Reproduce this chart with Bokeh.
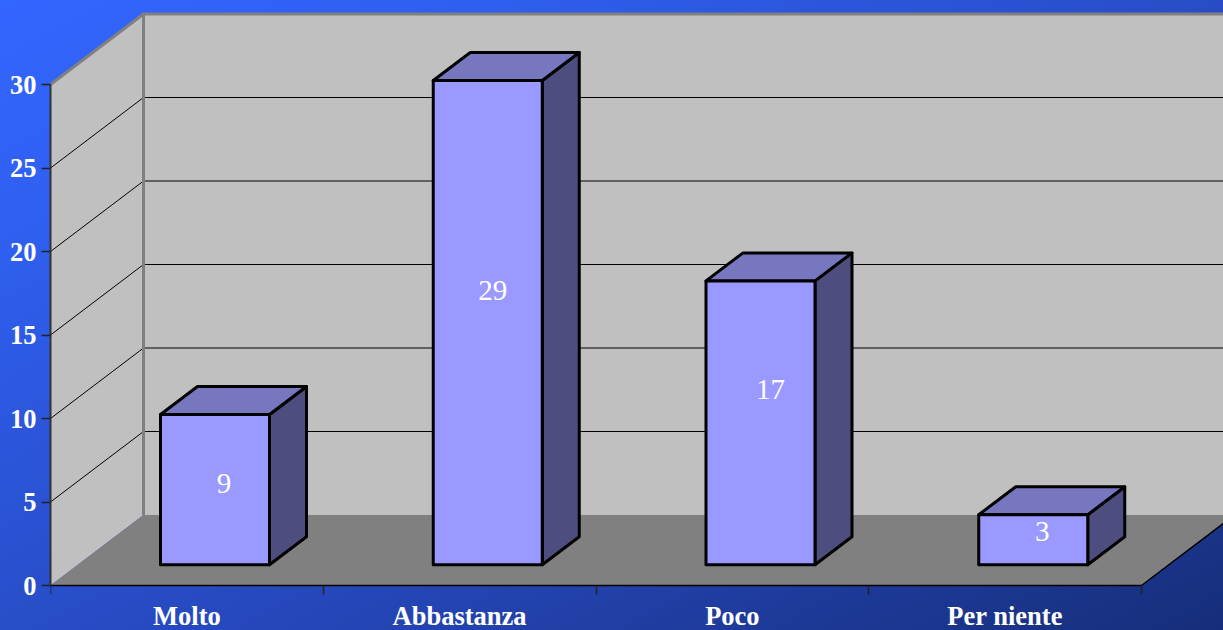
from bokeh.embed import file_html
from bokeh.resources import INLINE
from bokeh.plotting import figure
from bokeh.models import FixedTicker, Range1d, ColumnDataSource
from bokeh.core.properties import value

categories = ["Molto", "Abbastanza", "Poco", "Per niente"]
values = [9, 29, 17, 3]
y_ticks = [0, 5, 10, 15, 20, 25, 30]

# layout
W, H = 1223, 630
LEFT, BASE = 50, 585
CAT_PX = 272.75
VAL_PX = 16.7
WALL_DX = 93 / CAT_PX
WALL_DY = 70.5 / VAL_PX
BAR_X0 = 110 / CAT_PX
BAR_W = 109 / CAT_PX
BAR_BASE = 20.7 / VAL_PX
BAR_DX = 37 / CAT_PX
BAR_DY = 28 / VAL_PX
Y_TOP = max(y_ticks)
label_dx = [9, 5, 10, 9]
label_dy = [-6, -32, -33, -8]

p = figure(width=W, height=H, output_backend="svg", toolbar_location=None,
           x_range=Range1d(0, (W - LEFT) / CAT_PX), y_range=Range1d(-(H - BASE) / VAL_PX, BASE / VAL_PX),
           min_border_left=LEFT, min_border_right=0, min_border_top=0, min_border_bottom=0,
           background_fill_color=None, border_fill_color=None, outline_line_color=None)
p.styles = {"position": "fixed", "left": "0", "top": "0",
            "background": "linear-gradient(152deg, #3366ff 0%, #2f5fef 20%, #2546b8 62%, #162e7a 100%)"}
p.grid.visible = False

n = len(categories)
far = n + 1.0

# walls and floor
p.patch([0, WALL_DX, WALL_DX, 0], [0, WALL_DY, Y_TOP + WALL_DY, Y_TOP], fill_color="#c0c0c0", line_color=None)
p.patch([WALL_DX, far, far, WALL_DX], [WALL_DY, WALL_DY, Y_TOP + WALL_DY, Y_TOP + WALL_DY],
        fill_color="#c0c0c0", line_color=None)
p.patch([0, n, n + WALL_DX, far, WALL_DX], [0, 0, WALL_DY, WALL_DY, WALL_DY], fill_color="#808080", line_color=None)

# grid on the walls
for t in y_ticks[1:-1]:
    p.line([0, WALL_DX, far], [t, t + WALL_DY, t + WALL_DY], line_color="#000000", line_width=1)
p.line([0, WALL_DX, far], [Y_TOP, Y_TOP + WALL_DY, Y_TOP + WALL_DY], line_color="#808080", line_width=3)
p.line([WALL_DX, WALL_DX], [WALL_DY, Y_TOP + WALL_DY], line_color="#808080", line_width=3)
p.line([n, n + WALL_DX], [0, WALL_DY], line_color="#000000", line_width=1.5)

# bars
for i, v in enumerate(values):
    x0 = i + BAR_X0
    x1 = x0 + BAR_W
    y0 = BAR_BASE
    y1 = y0 + v
    common = dict(line_color="#000000", line_width=3, line_join="round")
    p.patch([x1, x1 + BAR_DX, x1 + BAR_DX, x1], [y0, y0 + BAR_DY, y1 + BAR_DY, y1], fill_color="#4d4d80", **common)
    p.patch([x0, x1, x1 + BAR_DX, x0 + BAR_DX], [y1, y1, y1 + BAR_DY, y1 + BAR_DY], fill_color="#7777c0", **common)
    p.patch([x0, x1, x1, x0], [y0, y0, y1, y1], fill_color="#9999ff", **common)

src = ColumnDataSource(dict(
    x=[i + BAR_X0 + BAR_W / 2 for i in range(n)],
    y=[BAR_BASE + v / 2 for v in values],
    t=[str(v) for v in values],
    dx=label_dx, dy=label_dy))
p.text("x", "y", text="t", x_offset="dx", y_offset="dy", source=src, text_color="#ffffff",
       text_font=value("Liberation Serif"), text_font_size="29px",
       text_align="center", text_baseline="middle")

# y axis
ya = p.yaxis[0]
ya.ticker = FixedTicker(ticks=y_ticks)
ya.bounds = (0, Y_TOP)
ya.axis_line_color = "#333333"
ya.axis_line_width = 2
ya.major_tick_line_color = "#222222"
ya.major_tick_line_width = 1.5
ya.major_tick_in = 0
ya.major_tick_out = 9
ya.minor_tick_line_color = None
ya.major_label_standoff = 5
ya.major_label_text_color = "#ffffff"
ya.major_label_text_font = "Liberation Serif"
ya.major_label_text_font_style = "bold"
ya.major_label_text_font_size = "26.5px"

# x axis: ticks between the categories, labels at their centres
xa = p.xaxis[0]
xa.fixed_location = 0
xa.ticker = FixedTicker(ticks=[i + 0.5 for i in range(n)], minor_ticks=list(range(n + 1)))
xa.major_label_overrides = {i + 0.5: c for i, c in enumerate(categories)}
xa.bounds = (0, n)
xa.axis_line_color = "#000000"
xa.axis_line_width = 1.5
xa.major_tick_line_color = None
xa.major_tick_in = 0
xa.major_tick_out = 0
xa.minor_tick_line_color = "#222222"
xa.minor_tick_line_width = 1.5
xa.minor_tick_in = 0
xa.minor_tick_out = 9
xa.major_label_standoff = 6
xa.major_label_text_color = "#ffffff"
xa.major_label_text_font = "Liberation Serif"
xa.major_label_text_font_style = "bold"
xa.major_label_text_font_size = "26.5px"

open("out.html", "w").write(file_html(p, INLINE))
